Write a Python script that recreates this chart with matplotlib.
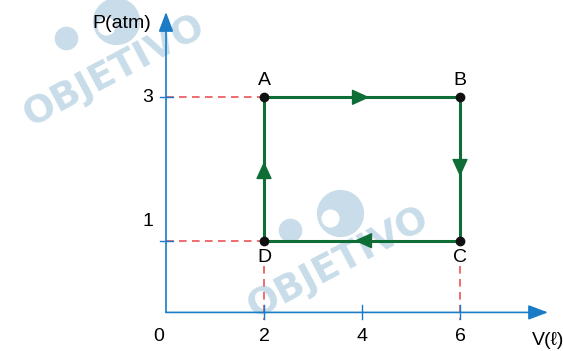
import numpy as np
import matplotlib
matplotlib.use("Agg")
import matplotlib.pyplot as plt

# cycle A -> B -> C -> D -> A  (V in litres, P in atm)
labels = ["A", "B", "C", "D"]
V = [2, 6, 6, 2]
P = [3, 3, 1, 1]
x_ticks = [2, 4, 6]
y_ticks = [1, 3]

plt.rcParams['font.family'] = ['Liberation Sans', 'DejaVu Sans']

green = '#0f6d36'
blue = '#1a7cc7'
red = '#e8474a'
wm = '#c8dde9'

fig = plt.figure(figsize=(5.63, 3.51), dpi=100)
ax = fig.add_axes([0, 0, 1, 1])
ax.axis('off')

# pixel mapping of the reference: 49 px per litre, 71.7 px per atm
sx, sy = 49.0, 71.7
ax.set_xlim(-166 / sx, (563 - 166) / sx)
ax.set_ylim((312.4 - 351) / sy, 312.4 / sy)


def px(x, y):
    return (x - 166) / sx, (312.4 - y) / sy


# watermarks (logo + word)
for (cx, cy) in [(114, 71), (338, 263)]:
    ax.text(*px(cx, cy), "OBJETIVO", fontsize=27, family='DejaVu Sans',
            fontweight='bold', color=wm, rotation=28, ha='center', va='center',
            zorder=0)
    ax.plot(*px(cx + 2, cy - 50), 'o', ms=34, color=wm, mew=0, zorder=0)
    ax.plot(*px(cx - 8, cy - 45), 'o', ms=13, color='white', mew=0, zorder=0)
    ax.plot(*px(cx - 48, cy - 33), 'o', ms=17, color=wm, mew=0, zorder=0)

# axes with arrows
xmax, ymax = (548 - 166) / sx, (312.4 - 12) / sy
for tip in [(xmax, 0), (0, ymax)]:
    ax.annotate("", xy=tip, xytext=(0, 0),
                arrowprops=dict(arrowstyle="-|>,head_length=1.2,head_width=0.45",
                                mutation_scale=10, color=blue, lw=1.2,
                                shrinkA=0, shrinkB=0), zorder=2)
for xt in x_ticks:
    ax.plot([xt, xt], [-7 / sy, 7 / sy], color=blue, lw=1.0, zorder=2)
    ax.annotate(str(xt), (xt, 0), xytext=(0, -17), textcoords='offset points',
                ha='center', va='center', fontsize=14)
ax.annotate("0", (0, 0), xytext=(-5, -17), textcoords='offset points',
            ha='center', va='center', fontsize=14)
for yt in y_ticks:
    ax.plot([-6.5 / sx, 6.5 / sx], [yt, yt], color=blue, lw=1.0, zorder=2)
ax.annotate("3", (0, 3), xytext=(-13, 0), textcoords='offset points',
            ha='center', va='center', fontsize=14)
ax.annotate("1", (0, 1), xytext=(-13, 14), textcoords='offset points',
            ha='center', va='center', fontsize=14)
ax.annotate("P(atm)", (0, ymax), xytext=(-32, -8), textcoords='offset points',
            ha='center', va='center', fontsize=14)
ax.annotate("V(ℓ)", (xmax, 0), xytext=(0, -20), textcoords='offset points',
            ha='center', va='center', fontsize=14)

# red dashed guides
dash = dict(color=red, lw=1.1, dashes=(5, 3.5), zorder=1)
ax.plot([0, V[0]], [P[0], P[0]], **dash)
ax.plot([0, V[3]], [P[3], P[3]], **dash)
ax.plot([V[3], V[3]], [0.65, -0.1], **dash)
ax.plot([V[2], V[2]], [0.65, -0.1], **dash)

# the cycle
ax.plot(V + [V[0]], P + [P[0]], color=green, lw=2.2, zorder=3)
hl_x, hl_y = 7.5 / sx, 7.5 / sy
for i in range(4):
    x0, y0 = V[i], P[i]
    x1, y1 = V[(i + 1) % 4], P[(i + 1) % 4]
    mx, my = (x0 + x1) / 2, (y0 + y1) / 2
    dx, dy = np.sign(x1 - x0) * hl_x, np.sign(y1 - y0) * hl_y
    ax.annotate("", xy=(mx + dx, my + dy), xytext=(mx - dx * 0.9, my - dy * 0.9),
                arrowprops=dict(arrowstyle="-|>,head_length=1.1,head_width=0.5",
                                mutation_scale=10, color=green, lw=1,
                                shrinkA=0, shrinkB=0), zorder=4)

ax.plot(V, P, 'o', color='#111111', ms=6, zorder=5)
for lab, v, p in zip(labels, V, P):
    off = 12 if p == max(P) else -12
    ax.annotate(lab, (v, p), xytext=(0, off), textcoords='offset points',
                ha='center', va='center', fontsize=14)

fig.savefig("out.png", dpi=100)
